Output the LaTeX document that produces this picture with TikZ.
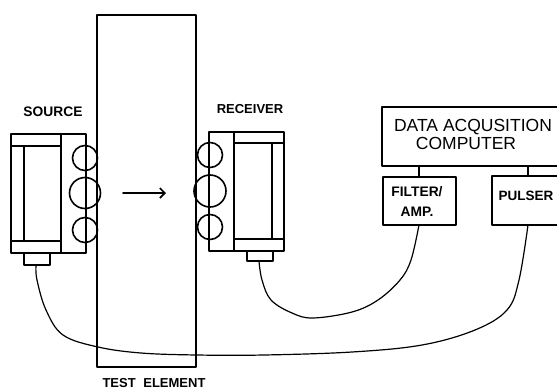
\documentclass[tikz,border=0pt]{standalone}
\usetikzlibrary{arrows.meta}
\usepackage{fontspec}
\setmainfont{Liberation Sans}
\tikzset{
 ln/.style={line width=1.6pt,line join=round,line cap=round},
 box/.style={ln,draw,inner sep=0pt,rectangle},
 cable/.style={line width=1.2pt,line cap=round},
 lab/.style={inner sep=0pt,font=\fontsize{13.8}{14}\selectfont\bfseries,align=center},
 big/.style={inner sep=0pt,font=\fontsize{17.5}{18}\selectfont,align=center},
 ring/.style={ln,draw,circle,inner sep=0pt},
}
\begin{document}
\begin{tikzpicture}[x=1pt,y=-1pt]
\useasboundingbox (0,0) rectangle (557,391);
% test element
\coordinate (ta) at (97,15); \coordinate (tb) at (196,367);
\draw[ln] (ta) rectangle (tb);
\node[lab,font=\fontsize{13}{14}\selectfont\bfseries] (tlab) at (154,383.5) {TEST\hspace{4pt} ELEMENT};
% source
\node[box,minimum width=75pt,minimum height=119pt] (src) at (48.5,193.5) {};
\coordinate (s1) at (61,134); \coordinate (s2) at (61,253);
\draw[ln] (s1) -- (s2);
\coordinate (s3) at (11,146); \coordinate (s4) at (61,146);
\coordinate (s5) at (11,241); \coordinate (s6) at (61,241);
\draw[ln] (s3) -- (s4); \draw[ln] (s5) -- (s6);
\coordinate (s7) at (24,146); \coordinate (s8) at (24,241);
\draw[ln] (s7) -- (s8);
\node[box,minimum width=26pt,minimum height=12pt] (sc) at (37,259) {};
\node[ring,minimum size=25pt] (c1) at (85,158) {};
\node[ring,minimum size=31pt] (c2) at (85,193) {};
\node[ring,minimum size=25pt] (c3) at (85,230) {};
\node[lab] (slab) at (53,112) {SOURCE};
% arrow
\coordinate (a1) at (123,193); \coordinate (a2) at (166,193);
\draw[ln,-{Straight Barb[length=5pt,width=10pt]}] (a1) -- (a2);
% receiver
\node[box,minimum width=75pt,minimum height=119pt] (rec) at (246.5,191.5) {};
\coordinate (r1) at (234,132); \coordinate (r2) at (234,251);
\draw[ln] (r1) -- (r2);
\coordinate (r3) at (234,143); \coordinate (r4) at (284,143);
\coordinate (r5) at (234,239); \coordinate (r6) at (284,239);
\draw[ln] (r3) -- (r4); \draw[ln] (r5) -- (r6);
\coordinate (r7) at (272,143); \coordinate (r8) at (272,239);
\draw[ln] (r7) -- (r8);
\node[box,minimum width=26pt,minimum height=10pt] (rc) at (260,256) {};
\node[ring,minimum size=25pt] (d1) at (210,155) {};
\node[ring,minimum size=32pt] (d2) at (210,191) {};
\node[ring,minimum size=25pt] (d3) at (210,227) {};
\node[lab,font=\fontsize{13}{14}\selectfont\bfseries] (rlab) at (250,109) {RECEIVER};
% electronics
\coordinate (ca) at (560,107); \coordinate (cb) at (382,107);
\coordinate (cc) at (382,166); \coordinate (cd) at (560,166);
\draw[ln] (ca) -- (cb) -- (cc) -- (cd);
\node[big] (clab) at (473,134) {DATA ACQUSITION\\\hspace*{-14pt}COMPUTER};
\node[box,minimum width=73pt,minimum height=48pt] (fil) at (419.5,201) {};
\node[lab,font=\fontsize{13.8}{20}\selectfont\bfseries] (flab) at (417,201) {FILTER/\\AMP.};
\coordinate (pa) at (560,176); \coordinate (pb) at (492,176);
\coordinate (pc) at (492,225); \coordinate (pd) at (560,225);
\draw[ln] (pa) -- (pb) -- (pc) -- (pd);
\node[lab,font=\fontsize{13.5}{14}\selectfont\bfseries] (plab) at (526,196) {PULSER};
\coordinate (l1) at (419,166); \coordinate (l2) at (528,166);
\coordinate (l3) at (528,176);
\draw[ln] (l1) -- (fil.north -| l1);
\draw[ln] (l2) -- (l3);
% cables
\coordinate (k1) at (259,261); \coordinate (k2) at (419,225);
\draw[cable] plot[smooth,tension=0.6] coordinates {(k1) (262,280) (271,300) (292,313) (313,318) (352,312) (378,300) (400,280) (411,260) (k2)};
\coordinate (k3) at (36,265); \coordinate (k4) at (528,225);
\draw[cable] plot[smooth,tension=0.6] coordinates {(k3) (37,280) (46,310) (63,335) (98,347) (141,353) (197,355) (264,355) (352,352) (422,345) (475,330) (507,310) (519,280) (k4)};
\end{tikzpicture}
\end{document}
